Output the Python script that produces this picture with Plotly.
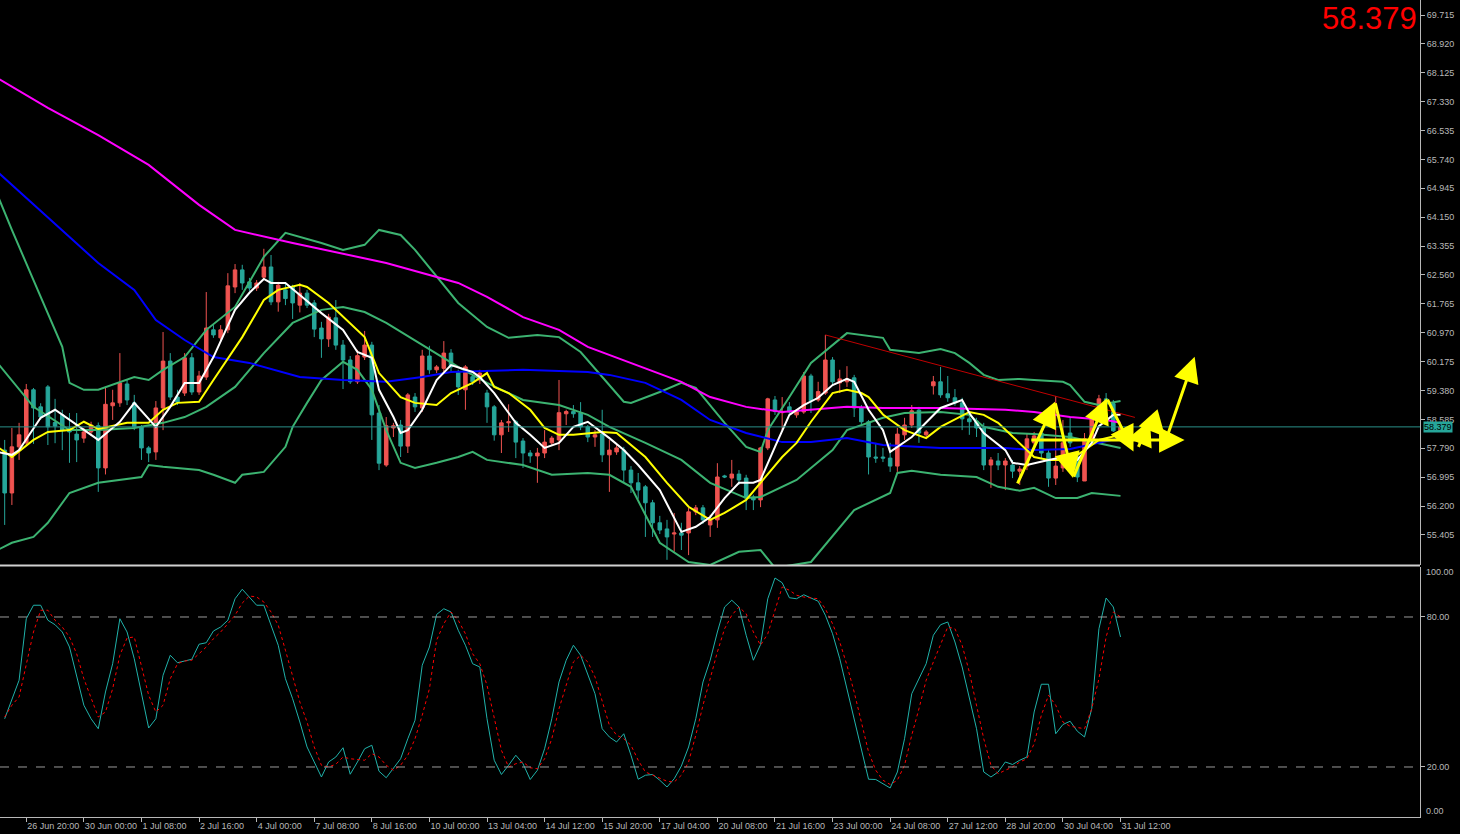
import plotly.graph_objects as go

# ---- candles (H4 bars, index 0 = first visible bar) ----
opens = [57.74, 56.56, 57.83, 57.94, 59.40, 58.93, 59.48, 58.50, 58.71, 58.35,
         58.18, 58.07, 58.24, 58.41, 57.25, 58.96, 59.04, 59.56, 59.04, 58.38,
         57.80, 57.69, 58.90, 60.19, 59.20, 59.31, 60.28, 59.34, 59.75, 61.05,
         60.83, 61.05, 62.23, 62.70, 62.37, 62.20, 62.50, 62.78, 61.82, 62.15,
         62.23, 61.73, 62.06, 61.79, 61.10, 60.80, 61.38, 60.63, 60.22, 59.62,
         60.30, 60.63, 58.76, 57.33, 58.35, 58.43, 57.85, 59.20, 58.90, 60.33,
         59.95, 59.99, 60.41, 59.89, 59.40, 59.76, 59.67, 59.31, 58.93, 58.16,
         58.49, 58.52, 57.99, 57.66, 57.58, 57.66, 57.94, 58.02, 58.74, 58.80,
         58.76, 58.38, 58.10, 58.18, 57.61, 57.69, 57.74, 57.19, 56.84, 56.73,
         56.29, 55.74, 55.57, 55.43, 55.46, 55.46, 56.04, 56.15, 55.68, 55.82,
         57.03, 56.97, 57.08, 56.97, 56.45, 56.37, 57.80, 59.12, 58.77, 58.93,
         58.71, 58.79, 59.78, 59.12, 59.31, 60.22, 59.59, 59.62, 59.73, 58.90,
         58.52, 57.55, 57.55, 57.52, 57.30, 58.16, 58.43, 58.84, 58.16, 59.51,
         59.62, 59.29, 59.18, 59.04, 58.60, 58.54, 58.35, 57.33, 57.44, 57.33,
         57.33, 57.16, 57.30, 57.94, 58.21, 57.66, 56.97, 57.25, 58.21, 57.55,
         56.89, 58.05, 58.57, 59.15, 59.02, 58.27]
highs = [58.02, 58.35, 58.49, 59.56, 59.45, 59.03, 59.53, 59.15, 58.85, 58.76,
         58.76, 58.35, 58.52, 58.50, 59.48, 59.40, 60.41, 59.67, 59.26, 58.43,
         57.85, 59.09, 60.99, 60.41, 59.40, 60.41, 60.41, 59.92, 62.09, 61.18,
         61.18, 62.61, 62.86, 62.84, 62.48, 62.42, 63.28, 63.11, 62.37, 62.34,
         62.29, 62.34, 62.15, 61.87, 61.27, 61.49, 61.87, 60.77, 60.33, 60.50,
         61.02, 60.72, 58.98, 58.65, 58.49, 58.57, 59.31, 59.31, 60.50, 60.61,
         60.08, 60.74, 60.52, 59.95, 60.08, 59.84, 59.95, 59.40, 58.98, 58.57,
         59.00, 58.57, 58.07, 57.74, 57.80, 58.29, 58.13, 59.67, 58.85, 58.98,
         59.06, 58.43, 58.29, 58.85, 58.02, 57.88, 57.83, 57.30, 57.11, 56.78,
         56.37, 55.93, 55.82, 56.01, 55.74, 56.15, 56.23, 56.23, 55.96, 57.38,
         57.06, 57.47, 57.19, 57.06, 56.51, 57.83, 59.18, 59.23, 59.20, 59.06,
         58.85, 59.89, 59.84, 59.62, 60.91, 60.30, 59.95, 60.05, 59.81, 58.98,
         58.57, 57.94, 57.80, 57.94, 58.35, 58.63, 58.98, 58.93, 58.29, 59.78,
         60.03, 59.78, 59.42, 59.18, 58.71, 58.63, 58.49, 57.55, 57.66, 57.52,
         57.47, 57.30, 58.21, 58.24, 58.35, 57.74, 59.23, 58.57, 58.63, 57.66,
         58.21, 58.63, 59.26, 59.31, 59.12, 58.46]
lows = [55.68, 56.23, 57.47, 57.88, 57.91, 58.57, 57.88, 57.93, 57.74, 57.39,
        57.41, 57.94, 58.13, 56.59, 57.07, 58.57, 58.93, 58.98, 58.29, 57.47,
        57.41, 57.47, 58.29, 59.12, 58.98, 59.23, 59.26, 59.26, 59.67, 60.83,
        60.72, 60.96, 62.06, 62.15, 62.12, 62.12, 62.42, 61.73, 61.55, 61.73,
        61.35, 61.53, 61.65, 60.85, 60.28, 60.58, 60.50, 59.42, 59.56, 59.56,
        60.22, 58.02, 57.19, 57.28, 58.10, 57.55, 57.66, 58.79, 58.79, 59.84,
        59.86, 59.89, 59.89, 59.26, 58.85, 59.53, 59.56, 58.49, 58.00, 57.66,
        58.24, 57.52, 57.25, 57.39, 56.84, 57.52, 57.86, 57.74, 58.43, 58.63,
        58.29, 57.96, 57.83, 57.41, 56.59, 57.61, 56.84, 56.56, 56.40, 55.35,
        55.35, 55.43, 54.72, 54.94, 54.99, 54.85, 55.95, 55.71, 55.35, 55.60,
        56.97, 56.73, 56.78, 56.09, 56.09, 56.17, 57.74, 58.71, 58.29, 58.74,
        58.63, 58.74, 58.76, 59.07, 59.26, 59.53, 59.31, 59.48, 58.65, 58.43,
        57.07, 57.39, 57.41, 57.14, 57.14, 58.02, 58.35, 57.94, 58.10, 59.27,
        59.18, 59.07, 58.96, 58.29, 58.16, 58.10, 57.19, 56.70, 57.19, 56.64,
        56.97, 56.78, 57.19, 57.83, 57.52, 56.73, 56.78, 57.14, 57.83, 56.86,
        56.89, 58.02, 58.52, 58.96, 58.24, 58.24]
closes = [56.56, 57.83, 58.16, 59.40, 58.90, 58.65, 58.38, 58.40, 58.29, 58.24,
          58.02, 58.24, 58.43, 57.25, 59.00, 59.04, 59.59, 59.12, 58.38, 57.80,
          57.66, 58.90, 60.19, 59.20, 59.06, 60.28, 59.34, 59.78, 61.10, 60.91,
          61.05, 62.26, 62.70, 62.34, 62.20, 62.34, 62.78, 61.82, 62.28, 61.91,
          61.79, 62.06, 61.73, 61.07, 60.80, 61.40, 60.63, 60.22, 59.62, 60.34,
          60.63, 58.71, 57.38, 58.41, 58.41, 57.85, 59.26, 58.93, 60.33, 59.95,
          60.03, 60.41, 60.03, 59.48, 60.03, 59.62, 59.86, 58.93, 58.16, 58.49,
          58.52, 57.96, 57.66, 57.58, 57.66, 57.96, 58.07, 58.77, 58.80, 58.74,
          58.38, 58.10, 58.16, 57.61, 57.74, 57.80, 57.19, 56.84, 56.64, 56.29,
          55.74, 55.54, 55.35, 55.46, 55.40, 56.04, 56.15, 55.82, 55.82, 57.00,
          57.00, 57.08, 56.92, 56.42, 56.37, 57.80, 59.15, 58.80, 58.80, 58.79,
          58.79, 59.78, 59.10, 59.35, 60.22, 59.62, 59.70, 59.70, 58.90, 58.52,
          57.55, 57.52, 57.52, 57.30, 58.18, 58.43, 58.82, 58.21, 58.24, 59.62,
          59.26, 59.18, 59.04, 58.60, 58.52, 58.35, 57.33, 57.47, 57.33, 57.44,
          57.16, 57.22, 58.05, 58.13, 57.66, 56.97, 57.30, 57.94, 57.94, 57.00,
          58.05, 58.60, 59.15, 59.04, 58.27, 58.379]

# ---- indicator lines (bar index, price) ----
ma_fast_bars = [-1, 1, 2, 5, 7, 9, 11, 13, 16, 18, 21, 23, 25, 27, 29, 32, 34, 36, 37, 39,
                41, 44, 47, 49, 51, 52, 54, 55, 56, 58, 60, 62, 65, 66, 68, 71, 73, 75, 77, 79,
                81, 84, 86, 88, 91, 93, 94, 96, 98, 100, 102, 104, 105, 107, 109, 111, 113, 115, 117, 118,
                120, 122, 123, 126, 128, 130, 133, 134, 136, 139, 140, 142, 145, 147, 149, 151, 152, 154, 155]
ma_fast = [57.69, 57.61, 57.74, 58.63, 58.85, 58.57, 58.29, 58.02, 58.52, 59.04, 58.38, 58.93, 59.59, 59.59, 60.30, 61.60, 62.07, 62.45, 62.34, 62.34,
           62.01, 61.51, 61.05, 60.44, 60.28, 59.40, 58.65, 58.21, 58.29, 58.85, 59.67, 60.08, 59.89, 59.75, 59.31, 58.49, 58.16, 57.80, 57.94, 58.38,
           58.52, 58.07, 57.74, 57.33, 56.64, 55.90, 55.49, 55.63, 55.90, 56.42, 56.84, 56.84, 56.92, 57.83, 58.71, 58.98, 59.18, 59.53, 59.70, 59.62,
           58.85, 58.29, 57.69, 58.10, 58.49, 58.90, 59.12, 58.76, 58.21, 57.74, 57.39, 57.33, 57.47, 57.55, 57.47, 57.94, 58.40, 58.71, 58.71]

ma_slow_bars = [-1, 1, 4, 6, 9, 11, 13, 17, 20, 22, 24, 27, 29, 33, 36, 38, 41, 42, 45, 49,
                50, 52, 55, 57, 60, 62, 65, 67, 68, 70, 73, 75, 77, 79, 83, 85, 89, 92, 95, 98,
                100, 103, 105, 108, 110, 112, 115, 117, 119, 120, 122, 125, 128, 130, 134, 136, 138, 141, 143, 145,
                148, 150, 152, 155]
ma_slow = [57.83, 57.55, 58.02, 58.24, 58.29, 58.52, 58.32, 58.49, 58.49, 58.85, 59.04, 59.07, 59.67, 60.85, 61.87, 62.15, 62.29, 62.23, 61.79, 61.05,
           60.85, 59.86, 59.20, 59.04, 58.98, 59.31, 59.59, 59.86, 59.48, 59.31, 58.85, 58.35, 58.16, 58.16, 58.24, 58.21, 57.55, 56.84, 56.18, 55.82,
           56.01, 56.37, 56.84, 57.55, 57.94, 58.52, 59.31, 59.40, 59.31, 59.20, 58.72, 58.29, 58.07, 58.38, 58.79, 58.71, 58.49, 57.94, 57.55, 57.47,
           57.47, 57.74, 58.02, 58.16]

ma100_bars = [-1, 8, 13, 18, 21, 25, 29, 34, 41, 47, 53, 58, 62, 72, 81, 84, 89, 94, 98, 103,
              108, 112, 117, 122, 130, 139, 143, 148, 152, 155]
ma100 = [65.40, 63.80, 62.89, 62.15, 61.32, 60.77, 60.30, 60.14, 59.75, 59.67, 59.62, 59.75, 59.89, 59.95, 59.89, 59.81, 59.59, 59.12, 58.57, 58.21,
         57.96, 57.96, 58.07, 57.88, 57.80, 57.80, 57.74, 57.77, 57.94, 58.07]

ma200_bars = [-1, 6, 13, 20, 27, 32, 40, 53, 63, 67, 72, 77, 81, 87, 94, 98, 103, 108, 112, 117,
              122, 130, 139, 143, 148, 153, 155]
ma200 = [67.98, 67.16, 66.41, 65.59, 64.49, 63.80, 63.44, 62.89, 62.34, 61.96, 61.40, 61.05, 60.58, 60.14, 59.62, 59.20, 58.93, 58.79, 58.85, 58.93,
         58.90, 58.90, 58.85, 58.79, 58.65, 58.57, 58.49]

bb_upper_bars = [-1, 1, 4, 8, 9, 11, 13, 18, 20, 22, 25, 28, 32, 36, 39, 44, 47, 50, 52, 55,
                 57, 60, 63, 67, 70, 74, 77, 80, 83, 86, 87, 91, 94, 96, 100, 103, 105, 106, 109, 112,
                 117, 119, 122, 123, 127, 130, 132, 134, 136, 138, 141, 143, 147, 148, 150, 152, 155]
bb_upper = [64.76, 63.80, 62.42, 60.58, 59.59, 59.40, 59.40, 59.75, 59.67, 59.95, 60.30, 61.05, 61.68, 63.06, 63.72, 63.44, 63.25, 63.39, 63.80, 63.66,
            63.25, 62.51, 61.79, 61.13, 60.83, 60.91, 60.85, 60.44, 59.75, 59.07, 59.04, 59.34, 59.59, 59.45, 58.49, 57.83, 57.69, 58.29, 59.20, 60.14,
            60.96, 60.91, 60.83, 60.50, 60.41, 60.52, 60.41, 60.14, 59.81, 59.67, 59.70, 59.67, 59.62, 59.53, 59.07, 58.98, 59.09]

bb_mid_bars = [-1, 4, 9, 13, 18, 22, 25, 28, 32, 36, 40, 44, 47, 50, 53, 58, 63, 67, 72, 77,
               81, 84, 89, 94, 98, 103, 105, 110, 115, 117, 122, 125, 130, 134, 136, 140, 143, 148, 152, 155]
bb_mid = [60.14, 58.93, 58.29, 58.29, 58.35, 58.49, 58.65, 58.93, 59.48, 60.41, 61.24, 61.60, 61.68, 61.54, 61.24, 60.63, 60.03, 59.59, 59.12, 58.98,
          58.71, 58.38, 57.94, 57.47, 56.84, 56.42, 56.45, 56.92, 57.74, 58.29, 58.63, 58.76, 58.79, 58.71, 58.38, 58.21, 58.18, 58.10, 57.94, 57.80]

bb_lower_bars = [-1, 1, 4, 6, 9, 13, 19, 20, 22, 27, 29, 32, 33, 36, 39, 40, 42, 44, 47, 49,
                 51, 53, 55, 57, 60, 63, 65, 67, 72, 76, 81, 84, 87, 91, 95, 98, 102, 105, 107, 112,
                 118, 122, 123, 124, 126, 130, 135, 138, 141, 143, 146, 149, 151, 155]
bb_lower = [54.99, 55.19, 55.35, 55.74, 56.56, 56.84, 57.00, 57.33, 57.28, 57.19, 57.06, 56.84, 57.06, 57.14, 57.83, 58.38, 59.04, 59.67, 60.17, 59.95,
            59.40, 58.29, 57.39, 57.25, 57.39, 57.55, 57.69, 57.47, 57.33, 57.06, 57.11, 57.06, 56.73, 55.19, 54.66, 54.58, 54.94, 54.99, 54.50, 54.66,
            56.09, 56.45, 56.56, 57.11, 57.17, 57.06, 57.00, 56.73, 56.62, 56.70, 56.42, 56.42, 56.56, 56.48]

# ---- stochastic %K / %D ----
stoch_k = [39.3, 47.3, 54.7, 79.3, 84.7, 84.7, 78.7, 76.9, 74.0, 68.0,
           56.7, 44.7, 39.3, 35.3, 50.0, 61.3, 79.3, 74.0, 63.3, 49.3,
           35.6, 39.3, 56.7, 64.7, 61.7, 62.4, 63.1, 69.1, 69.7, 74.4,
           76.0, 78.7, 87.3, 91.1, 88.0, 84.7, 84.7, 76.7, 68.7, 55.3,
           47.3, 38.0, 28.0, 22.0, 16.0, 22.0, 24.0, 27.7, 17.1, 22.0,
           27.3, 28.7, 18.3, 15.7, 19.3, 23.3, 31.3, 38.7, 60.7, 68.0,
           81.0, 83.3, 82.0, 74.7, 68.7, 61.3, 60.0, 39.3, 22.7, 17.0,
           20.7, 24.7, 21.3, 15.0, 18.7, 27.3, 39.3, 54.0, 62.7, 68.7,
           64.7, 56.7, 49.3, 35.3, 32.0, 30.0, 33.3, 24.7, 15.1, 16.7,
           17.0, 14.7, 12.0, 15.3, 20.4, 28.0, 39.3, 54.0, 62.7, 74.0,
           84.0, 86.7, 84.0, 72.7, 62.7, 69.0, 87.3, 95.6, 93.7, 87.7,
           87.3, 88.9, 87.6, 86.3, 80.7, 73.3, 63.3, 51.3, 39.3, 27.3,
           15.1, 15.0, 13.4, 11.6, 18.0, 31.3, 49.3, 55.3, 61.3, 72.7,
           76.9, 78.0, 70.0, 60.0, 48.0, 35.3, 18.0, 16.0, 18.0, 22.0,
           21.0, 22.7, 24.0, 42.0, 53.1, 53.1, 33.3, 37.0, 38.3, 34.3,
           32.0, 43.3, 75.3, 87.6, 84.0, 72.0]
stoch_d = [40.0, 44.7, 48.0, 60.7, 74.0, 82.7, 82.7, 78.7, 76.0, 72.0,
           65.3, 55.3, 47.3, 40.0, 42.0, 51.3, 64.7, 71.6, 72.0, 60.7,
           48.7, 42.0, 44.7, 55.3, 61.3, 62.4, 62.7, 65.3, 68.0, 71.3,
           74.0, 77.3, 80.7, 85.6, 88.4, 88.0, 86.0, 82.0, 76.7, 66.7,
           56.7, 46.0, 38.0, 28.0, 20.7, 20.0, 21.1, 24.0, 23.3, 23.1,
           22.7, 25.3, 24.0, 20.7, 18.7, 20.7, 24.7, 31.3, 40.7, 51.3,
           70.7, 77.3, 82.0, 78.7, 73.3, 65.3, 61.3, 52.7, 39.3, 26.7,
           20.0, 21.3, 22.0, 19.7, 19.3, 23.3, 31.3, 43.3, 52.7, 62.0,
           64.7, 62.0, 56.0, 46.0, 36.7, 32.7, 31.3, 28.7, 22.7, 18.0,
           16.7, 15.3, 14.3, 14.0, 16.7, 22.0, 32.7, 44.7, 55.3, 66.0,
           75.3, 80.7, 84.0, 81.3, 74.0, 68.7, 73.3, 82.7, 92.0, 90.7,
           88.7, 88.0, 87.6, 87.3, 83.3, 77.3, 70.0, 60.7, 50.0, 38.0,
           26.0, 18.7, 14.7, 13.0, 14.7, 20.7, 32.7, 43.3, 54.7, 62.0,
           69.3, 76.0, 75.3, 68.7, 58.0, 44.7, 31.3, 20.7, 17.3, 18.7,
           20.0, 22.0, 23.3, 29.3, 40.7, 48.7, 44.7, 38.0, 36.3, 35.8,
           35.3, 43.3, 55.3, 72.0, 82.0, 80.0]

# ---- drawings on the chart ----
trend_bars = [114, 157]
trend_prices = [60.91, 58.64]
zigzag_bars = [140.6, 145.9, 148.4, 153.1, 156.8]
zigzag_prices = [56.78, 59.07, 56.97, 59.17, 57.70]
hook_bars = [157.4, 159.1, 161.2]
hook_prices = [57.79, 58.57, 58.11]
breakout_bars = [161.4, 165.3]
breakout_prices = [58.07, 60.31]
flat_bars = [142.4, 163.9]
flat_prices = [58.02, 58.02]

price_ticks = [55.405, 56.200, 56.995, 57.790, 58.585, 59.380, 60.175, 60.970, 61.765, 62.560,
               63.355, 64.150, 64.945, 65.740, 66.535, 67.330, 68.125, 68.920, 69.715]
time_labels = ["26 Jun 20:00", "30 Jun 00:00", "1 Jul 08:00", "2 Jul 16:00", "4 Jul 00:00",
               "7 Jul 08:00", "8 Jul 16:00", "10 Jul 00:00", "13 Jul 04:00", "14 Jul 12:00",
               "15 Jul 20:00", "17 Jul 04:00", "20 Jul 08:00", "21 Jul 16:00", "23 Jul 00:00",
               "24 Jul 08:00", "27 Jul 12:00", "28 Jul 20:00", "30 Jul 04:00", "31 Jul 12:00"]
stoch_levels = [20, 80]

bars = list(range(len(closes)))
tick_bars = [3 + 8 * i for i in range(len(time_labels))]
last = closes[-1]

FONT = "Liberation Sans"
AXIS_GREY = "#b8b8b8"
BULL = "#ef5350"
BEAR = "#26a69a"

fig = go.Figure()

# bands and moving averages underneath the candles
for xs, ys, col in [(bb_upper_bars, bb_upper, "#3cb371"),
                    (bb_mid_bars, bb_mid, "#3cb371"),
                    (bb_lower_bars, bb_lower, "#3cb371"),
                    (ma200_bars, ma200, "#ff00ff"),
                    (ma100_bars, ma100, "#0000ff")]:
    fig.add_trace(go.Scatter(x=xs, y=ys, mode="lines", line=dict(color=col, width=2),
                             xaxis="x", yaxis="y", hoverinfo="skip"))

fig.add_trace(go.Candlestick(
    x=bars, open=opens, high=highs, low=lows, close=closes,
    increasing=dict(line=dict(color=BULL, width=1), fillcolor=BULL),
    decreasing=dict(line=dict(color=BEAR, width=1), fillcolor=BEAR),
    whiskerwidth=0, xaxis="x", yaxis="y",
))

for xs, ys, col in [(ma_slow_bars, ma_slow, "#ffff00"),
                    (ma_fast_bars, ma_fast, "#ffffff")]:
    fig.add_trace(go.Scatter(x=xs, y=ys, mode="lines", line=dict(color=col, width=2),
                             xaxis="x", yaxis="y", hoverinfo="skip"))

fig.add_trace(go.Scatter(x=trend_bars, y=trend_prices, mode="lines",
                         line=dict(color="#c00000", width=1), xaxis="x", yaxis="y"))

# stochastic panel
fig.add_trace(go.Scatter(x=bars, y=stoch_k, mode="lines", line=dict(color="#20b2aa", width=1),
                         xaxis="x2", yaxis="y2"))
fig.add_trace(go.Scatter(x=bars, y=stoch_d, mode="lines", line=dict(color="#ff0000", width=1, dash="dot"),
                         xaxis="x2", yaxis="y2"))

# hand drawn yellow arrows
annotations = []


def add_arrows(xs, ys):
    for i in range(1, len(xs)):
        annotations.append(dict(
            x=xs[i], y=ys[i], ax=xs[i - 1], ay=ys[i - 1],
            xref="x", yref="y", axref="x", ayref="y",
            showarrow=True, arrowhead=2, arrowsize=1.7, arrowwidth=3,
            arrowcolor="#ffff00", standoff=0, startstandoff=0, text="",
        ))


add_arrows(flat_bars, flat_prices)
add_arrows(zigzag_bars, zigzag_prices)
add_arrows(hook_bars, hook_prices)
add_arrows(breakout_bars, breakout_prices)

annotations += [
    dict(x=1, y=last, xref="paper", yref="y", xanchor="left", yanchor="middle",
         text=f"{last:.3f}", showarrow=False, bgcolor=BEAR, borderpad=0, xshift=3,
         font=dict(family=FONT, size=9, color="#000000")),
    dict(x=1, y=1, xref="paper", yref="paper", xanchor="right", yanchor="top",
         text=f"{last:.3f}", showarrow=False, yshift=1, xshift=-1,
         font=dict(family=FONT, size=31, color="#ff0000")),
    dict(x=1, y=100, xref="paper", yref="y2", xanchor="left", yanchor="top",
         text="100.00", showarrow=False, xshift=4, yshift=2,
         font=dict(family=FONT, size=9, color=AXIS_GREY)),
    dict(x=1, y=0, xref="paper", yref="y2", xanchor="left", yanchor="bottom",
         text="0.00", showarrow=False, xshift=4, yshift=-1,
         font=dict(family=FONT, size=9, color=AXIS_GREY)),
]

shapes = [
    dict(type="line", xref="paper", yref="y", x0=0, x1=1, y0=last, y1=last,
         line=dict(color="#2a8f88", width=1)),
    dict(type="line", xref="paper", yref="paper", x0=0, x1=1, y0=0.3078, y1=0.3078,
         line=dict(color="#d0d0d0", width=2)),
]
for lv in stoch_levels:
    shapes.append(dict(type="line", xref="paper", yref="y2", x0=0, x1=1, y0=lv, y1=lv,
                       line=dict(color="#9a9a9a", width=1, dash="dash")))

tickfont = dict(family=FONT, size=9, color=AXIS_GREY)

fig.update_layout(
    template="none",
    width=1460, height=834,
    paper_bgcolor="#000000", plot_bgcolor="#000000",
    margin=dict(l=0, r=40, t=0, b=17),
    showlegend=False,
    annotations=annotations,
    shapes=shapes,
    xaxis=dict(domain=[0, 1], anchor="y", range=[-0.65, 196.6], showticklabels=False,
               showgrid=False, zeroline=False, showline=False, ticks="",
               rangeslider=dict(visible=False), automargin=False),
    yaxis=dict(domain=[0.3085, 1], anchor="x", range=[54.579, 70.128], side="right",
               tickvals=price_ticks, ticktext=[f"{t:.3f}" for t in price_ticks],
               showgrid=False, zeroline=False, showline=True, linecolor=AXIS_GREY, linewidth=1,
               ticks="outside", ticklen=4, tickcolor=AXIS_GREY, tickfont=tickfont,
               automargin=False),
    xaxis2=dict(domain=[0, 1], anchor="y2", matches="x", range=[-0.65, 196.6],
                tickvals=tick_bars, ticktext=time_labels, ticklabelposition="outside right",
                tickangle=0, ticklabelstandoff=0,
                showgrid=False, zeroline=False, showline=True, linecolor=AXIS_GREY, linewidth=1,
                ticks="outside", ticklen=4, tickcolor=AXIS_GREY, tickfont=tickfont,
                rangeslider=dict(visible=False), automargin=False),
    yaxis2=dict(domain=[0, 0.306], anchor="x2", range=[0, 100], side="right",
                tickvals=stoch_levels, ticktext=[f"{v:.2f}" for v in stoch_levels],
                showgrid=False, zeroline=False, showline=True, linecolor=AXIS_GREY, linewidth=1,
                ticks="outside", ticklen=4, tickcolor=AXIS_GREY, tickfont=tickfont,
                automargin=False),
)

# the page body has a default 8px margin; drop it so the figure sits at the window corner
fig.write_html("out.html", config={"displayModeBar": False},
               post_script="document.body.style.margin='0';document.body.style.background='#000';")
